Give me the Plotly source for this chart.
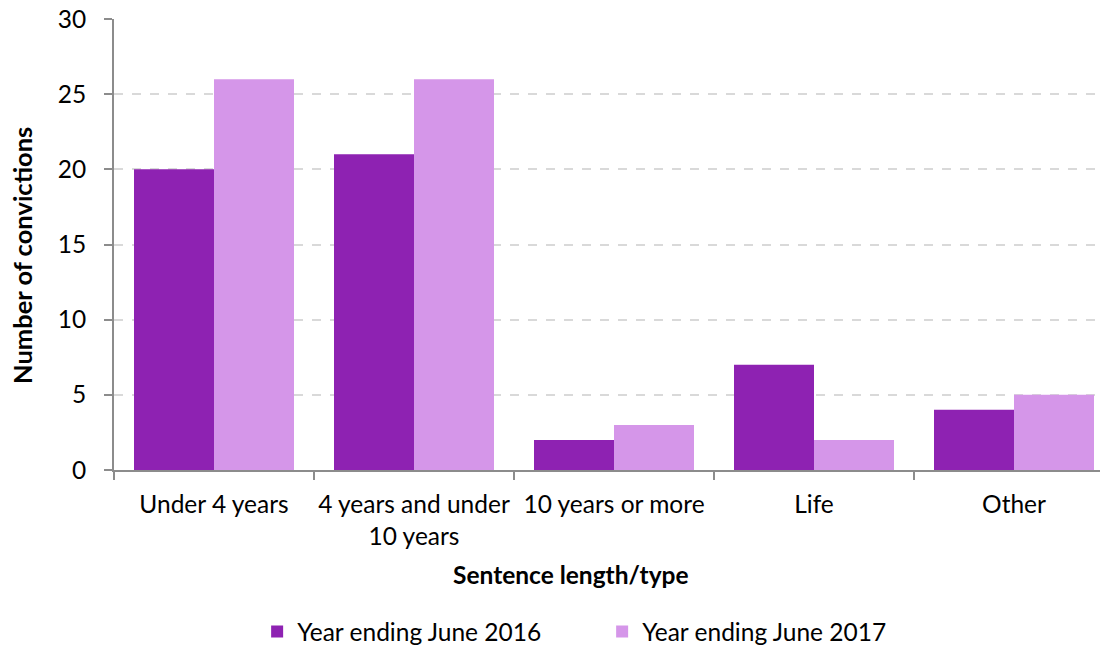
import plotly.graph_objects as go

categories = ["Under 4 years", "4 years and under<br>10 years", "10 years or more", "Life", "Other"]
series_names = ["Year ending June 2016", "Year ending June 2017"]
values_2016 = [20, 21, 2, 7, 4]
values_2017 = [26, 26, 3, 2, 5]
colors = ["#8E22B2", "#D596E9"]
x_title = "Sentence length/type"
y_title = "Number of convictions"

FONT = "Lato"
FS = 24.5

fig = go.Figure()
for name, vals, col in zip(series_names, [values_2016, values_2017], colors):
    fig.add_trace(go.Bar(x=categories, y=vals, name=name, marker=dict(color=col, line=dict(width=0))))

fig.update_layout(
    width=1100, height=643,
    margin=dict(l=106, r=0, t=11, b=181, autoexpand=False),
    paper_bgcolor="white", plot_bgcolor="white",
    barmode="group", bargap=0.2, bargroupgap=0,
    font=dict(family=FONT, size=FS, color="black"),
    showlegend=True,
    legend=dict(orientation="h", x=0.144, xanchor="left", y=-0.358, yanchor="middle",
                font=dict(size=FS), itemwidth=30, entrywidth=300, entrywidthmode="pixels",
                traceorder="normal"),
)
fig.add_annotation(text="<b>%s</b>" % x_title, xref="paper", yref="paper",
                   x=0.4598, y=-0.2328, xanchor="center", yanchor="middle",
                   showarrow=False, font=dict(size=FS))
fig.add_annotation(text="<b>%s</b>" % y_title, xref="paper", yref="paper",
                   x=-0.0926, y=0.4767, xanchor="center", yanchor="middle", textangle=-90,
                   showarrow=False, font=dict(size=25.5))
fig.update_xaxes(
    type="category", range=[-0.5, 4.47], automargin=False,
    showline=True, linecolor="#8C8C8C", linewidth=2,
    ticks="outside", tickson="boundaries", ticklen=8, tickcolor="#8C8C8C", tickwidth=2,
    ticklabelstandoff=12, tickangle=0, ticklabeloverflow="allow",
    showgrid=False,
    tickfont=dict(size=FS),
)
fig.update_yaxes(
    range=[0, 30], dtick=5, tick0=0, automargin=False,
    showline=True, linecolor="#8C8C8C", linewidth=2,
    ticks="outside", ticklen=8, tickcolor="#8C8C8C", tickwidth=2,
    ticklabelstandoff=13, ticklabeloverflow="allow",
    showgrid=True, gridcolor="#D9D9D9", gridwidth=1.5, griddash="dash",
    zeroline=False,
    tickfont=dict(size=FS),
)

fig.write_html("out.html")
